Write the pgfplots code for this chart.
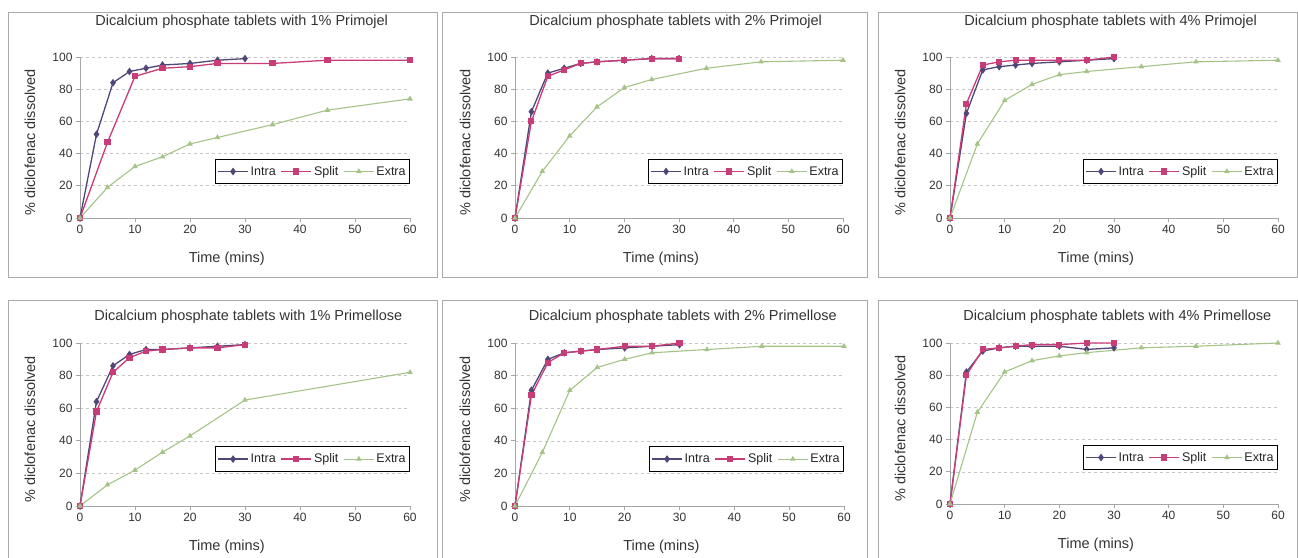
\documentclass[border=0pt]{standalone}
\usepackage{fontspec}
\setmainfont{Liberation Sans}
\usepackage{pgfplots}
\pgfplotsset{compat=1.18}

\definecolor{cintra}{RGB}{80,70,120}
\definecolor{csplit}{RGB}{200,60,120}
\definecolor{cextra}{RGB}{165,195,135}
\definecolor{cframe}{RGB}{170,170,170}

\pgfplotsset{
  panel/.style={
    scale only axis, clip=false,
    xmin=0, xmax=60, ymin=0, ymax=100,
    xtick={0,10,...,60}, ytick={0,20,...,100},
    axis x line=bottom, axis y line=left,
    axis line style={-, draw=gray!70, line width=0.8pt},
    tick align=outside, major tick length=4pt,
    tick style={gray!70, line width=0.8pt},
    ymajorgrids, grid style={dashed, gray!45, line width=0.6pt},
    /pgf/number format/assume math mode=true,
    tick label style={font=\fontsize{12}{12}\selectfont, text=black!80},
    label style={font=\fontsize{14.5}{15}\selectfont, text=black!80},
    xlabel={Time (mins)},
    ylabel={\% diclofenac dissolved},
    xlabel style={at={(axis description cs:0.445,-0.25)}, anchor=center},
    ylabel style={at={(axis description cs:-0.152,0.47)}, anchor=center},
    legend columns=3,
    legend style={at={(axis description cs:1,0.21)}, anchor=south east,
      draw=black, line width=0.8pt, inner xsep=2pt, inner ysep=5pt,
      font=\fontsize{12.5}{13}\selectfont, text=black!85,
      /tikz/every even column/.append style={column sep=3pt}},
    legend image code/.code={\draw[mark repeat=2, mark phase=2]
      plot coordinates {(0pt,0pt) (15pt,0pt) (30pt,0pt)};},
  },
  toptitle/.style={title style={at={(axis description cs:0.49,1.18)}, anchor=center,
      font=\fontsize{14.5}{15}\selectfont, text=black!80}},
  bottitle/.style={title style={at={(axis description cs:0.51,1.123)}, anchor=center,
      font=\fontsize{14.5}{15}\selectfont, text=black!80}},
  intra/.style={color=cintra, line width=1.3pt, mark=diamond*, mark size=2.8pt},
  split/.style={color=csplit, line width=1.3pt, mark=square*, mark size=2.4pt},
  extra/.style={color=cextra, line width=1.1pt, mark=triangle*, mark size=2.2pt},
}

\begin{document}
\begin{tikzpicture}
\useasboundingbox (0pt,0pt) rectangle (1298pt,557pt);
% panel frames
\draw[cframe, line width=0.8pt] (8pt,280pt) rectangle (437pt,545pt);
\draw[cframe, line width=0.8pt] (442pt,280pt) rectangle (867pt,545pt);
\draw[cframe, line width=0.8pt] (878pt,280pt) rectangle (1297pt,545pt);
\draw[cframe, line width=0.8pt] (8pt,-2pt) -- (8pt,257pt) -- (437pt,257pt) -- (437pt,-2pt);
\draw[cframe, line width=0.8pt] (442pt,-2pt) -- (442pt,257pt) -- (867pt,257pt) -- (867pt,-2pt);
\draw[cframe, line width=0.8pt] (878pt,-2pt) -- (878pt,257pt) -- (1297pt,257pt) -- (1297pt,-2pt);

% 1% Primojel
\begin{axis}[panel, toptitle, at={(80pt,339pt)}, anchor=south west, width=330pt, height=161pt,
  title={Dicalcium phosphate tablets with 1\% Primojel}]
\addplot[intra] coordinates {(0,0)(3,52)(6,84)(9,91)(12,93)(15,95)(20,96)(25,98)(30,99)};
\addplot[split] coordinates {(0,0)(5,47)(10,88)(15,93)(20,94)(25,96)(35,96)(45,98)(60,98)};
\addplot[extra] coordinates {(0,0)(5,19)(10,32)(15,38)(20,46)(25,50)(35,58)(45,67)(60,74)};
\legend{Intra, Split, Extra}
\end{axis}

% 2% Primojel
\begin{axis}[panel, toptitle, at={(515pt,339pt)}, anchor=south west, width=328pt, height=161pt,
  title={Dicalcium phosphate tablets with 2\% Primojel}]
\addplot[intra] coordinates {(0,0)(3,66)(6,90)(9,93)(12,96)(15,97)(20,98)(25,99)(30,99)};
\addplot[split] coordinates {(0,0)(3,60)(6,88)(9,92)(12,96)(15,97)(20,98)(25,99)(30,99)};
\addplot[extra] coordinates {(0,0)(5,29)(10,51)(15,69)(20,81)(25,86)(35,93)(45,97)(60,98)};
\legend{Intra, Split, Extra}
\end{axis}

% 4% Primojel
\begin{axis}[panel, toptitle, at={(950pt,339pt)}, anchor=south west, width=328pt, height=161pt,
  title={Dicalcium phosphate tablets with 4\% Primojel}]
\addplot[intra] coordinates {(0,0)(3,65)(6,92)(9,94)(12,95)(15,96)(20,97)(25,98)(30,99)};
\addplot[split] coordinates {(0,0)(3,71)(6,95)(9,97)(12,98)(15,98)(20,98)(25,98)(30,100)};
\addplot[extra] coordinates {(0,0)(5,46)(10,73)(15,83)(20,89)(25,91)(35,94)(45,97)(60,98)};
\legend{Intra, Split, Extra}
\end{axis}

% 1% Primellose
\begin{axis}[panel, bottitle, at={(80pt,51pt)}, anchor=south west, width=330pt, height=163pt,
  title={Dicalcium phosphate tablets with 1\% Primellose}]
\addplot[intra] coordinates {(0,0)(3,64)(6,86)(9,93)(12,96)(15,96)(20,97)(25,98)(30,99)};
\addplot[split] coordinates {(0,0)(3,58)(6,82)(9,91)(12,95)(15,96)(20,97)(25,97)(30,99)};
\addplot[extra] coordinates {(0,0)(5,13)(10,22)(15,33)(20,43)(30,65)(60,82)};
\legend{Intra, Split, Extra}
\end{axis}

% 2% Primellose
\begin{axis}[panel, bottitle, at={(515pt,51pt)}, anchor=south west, width=329pt, height=163pt,
  title={Dicalcium phosphate tablets with 2\% Primellose}]
\addplot[intra] coordinates {(0,0)(3,71)(6,90)(9,94)(12,95)(15,96)(20,97)(25,98)(30,99)};
\addplot[split] coordinates {(0,0)(3,68)(6,88)(9,94)(12,95)(15,96)(20,98)(25,98)(30,100)};
\addplot[extra] coordinates {(0,0)(5,33)(10,71)(15,85)(20,90)(25,94)(35,96)(45,98)(60,98)};
\legend{Intra, Split, Extra}
\end{axis}

% 4% Primellose
\begin{axis}[panel, bottitle, at={(950pt,53pt)}, anchor=south west, width=328pt, height=161pt,
  title={Dicalcium phosphate tablets with 4\% Primellose}]
\addplot[intra] coordinates {(0,0)(3,82)(6,95)(9,97)(12,98)(15,98)(20,98)(25,96)(30,97)};
\addplot[split] coordinates {(0,0)(3,80)(6,96)(9,97)(12,98)(15,99)(20,99)(25,100)(30,100)};
\addplot[extra] coordinates {(0,0)(5,57)(10,82)(15,89)(20,92)(25,94)(35,97)(45,98)(60,100)};
\legend{Intra, Split, Extra}
\end{axis}
\end{tikzpicture}
\end{document}
